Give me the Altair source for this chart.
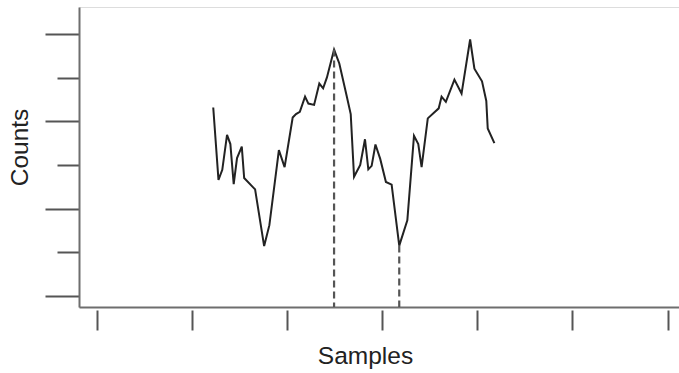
import altair as alt
import pandas as pd

# Trace (sample index, counts in axis units)
samples = [24.5, 25.6, 26.4, 27.4, 28.1, 28.8, 29.5, 30.5, 31.0, 33.3,
           35.2, 36.3, 38.3, 39.5, 41.2, 41.9, 42.7, 43.8, 44.5, 45.7,
           46.8, 47.6, 48.4, 49.9, 51.0, 52.6, 53.4, 54.1, 55.4, 56.4,
           57.1, 57.8, 58.6, 59.6, 60.8, 62.0, 63.6, 65.3, 66.7, 67.6,
           68.3, 69.6, 71.9, 72.5, 73.4, 75.2, 76.7, 78.5, 79.4, 81.0,
           81.9, 82.2, 83.6]
counts = [53.2, 36.6, 38.9, 46.9, 44.8, 35.6, 41.6, 44.2, 37.0, 34.4,
          21.4, 26.2, 43.4, 39.5, 50.9, 51.7, 52.2, 55.7, 54.1, 53.8,
          58.7, 57.6, 60.1, 66.5, 63.3, 55.6, 51.7, 37.3, 40.0, 45.9,
          39.0, 39.8, 44.7, 41.4, 36.1, 35.5, 21.5, 27.3, 46.7, 44.8,
          39.5, 50.7, 53.0, 55.7, 54.5, 59.6, 56.4, 68.8, 62.1, 59.2,
          54.7, 48.4, 45.0]

# Marked peak and trough
mark_samples = [49.9, 63.6]
mark_counts = [66.5, 21.5]

x_ticks = [0, 20, 40, 60, 80, 100, 120]
y_ticks = [10, 20, 30, 40, 50, 60, 70]
x_domain = [-3.72, 122.41]
y_domain = [7.41, 76.26]

line_df = pd.DataFrame({"Samples": samples, "Counts": counts})
mark_df = pd.DataFrame({"Samples": mark_samples, "Counts": mark_counts,
                        "Base": [y_domain[0]] * len(mark_samples)})

FONT = "Liberation Sans"
xs = alt.Scale(domain=x_domain, nice=False, zero=False)
ys = alt.Scale(domain=y_domain, nice=False, zero=False)

line = alt.Chart(line_df).mark_line(color="#222222", strokeWidth=2).encode(
    x=alt.X("Samples:Q", scale=xs,
            axis=alt.Axis(orient="bottom", title="Samples", ticks=False, labels=False,
                          grid=False, domainColor="#6e6e6e", domainWidth=2,
                          titleFont=FONT, titleFontSize=24.5, titleFontWeight="normal",
                          titleColor="#222222", titleX=286, titleY=56,
                          titleAlign="center", titleBaseline="alphabetic")),
    y=alt.Y("Counts:Q", scale=ys,
            axis=alt.Axis(title="Counts", values=y_ticks, labels=False, grid=False,
                          domainColor="#6e6e6e", domainWidth=2,
                          tickColor="#555555", tickWidth=2,
                          tickSize={"condition": {"test": "datum.value % 20 == 10", "value": 34},
                                    "value": 22},
                          titleFont=FONT, titleFontSize=24.5, titleFontWeight="normal",
                          titleColor="#222222", titleX=-59, titleY=140,
                          titleAngle=270, titleAlign="center", titleBaseline="middle")),
)

rules = alt.Chart(mark_df).mark_rule(color="#555555", strokeWidth=2.2,
                                     strokeDash=[7, 4]).encode(
    x=alt.X("Samples:Q", scale=xs,
            axis=alt.Axis(orient="bottom", title=None, values=x_ticks, labels=False,
                          grid=False, domain=False, offset=3, tickSize=20, tickWidth=2,
                          tickColor="#555555")),
    y=alt.Y("Counts:Q", scale=ys),
    y2="Base:Q",
)

chart = alt.layer(line, rules).resolve_axis(x="independent").properties(
    width=600, height=300,
    autosize=alt.AutoSizeParams(type="none"),
    padding={"left": 79, "top": 7, "right": 0, "bottom": 66},
).configure_view(stroke=None).configure(background="white")

chart.save("out.html", embed_options={"renderer": "svg", "actions": False})
